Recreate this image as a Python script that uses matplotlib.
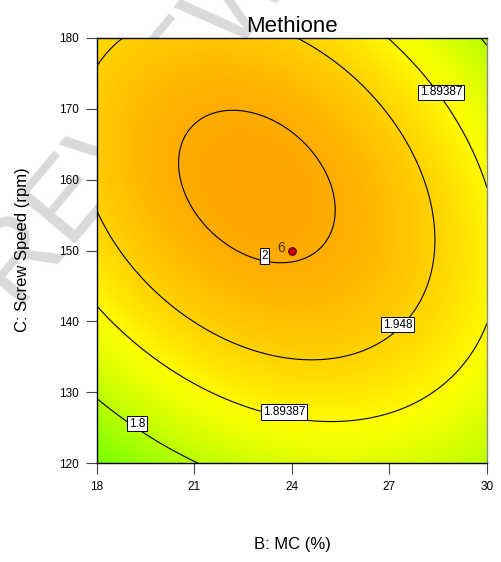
import matplotlib
matplotlib.use("Agg")
import matplotlib.pyplot as plt
import numpy as np
from matplotlib.colors import LinearSegmentedColormap, Normalize

plt.rcParams['font.family'] = ['Liberation Sans', 'DejaVu Sans']

# quadratic response model for Methione, coded factors
# x = (B - 24) / 6, y = (C - 150) / 30
coef_names = ['const', 'B', 'C', 'BC', 'B2', 'C2']
coef = [2.00319, -0.01300, 0.05395, -0.05897, -0.08549, -0.10718]

b_range = [18, 30]
c_range = [120, 180]
levels = [1.8, 1.89387, 1.948, 2.0]
level_labels = {1.8: '1.8', 1.89387: '1.89387', 1.948: '1.948', 2.0: '2'}
label_pos = [(19.4, 126), (23.8, 127.5), (28.7, 172), (27.1, 139.6), (23.2, 149.5)]

design_b = [24]
design_c = [150]
design_n = ['6']

x_ticks = [18, 21, 24, 27, 30]
y_ticks = [120, 130, 140, 150, 160, 170, 180]

b = np.linspace(b_range[0], b_range[1], 300)
c = np.linspace(c_range[0], c_range[1], 300)
B, C = np.meshgrid(b, c)
X = (B - 24) / 6
Y = (C - 150) / 30
Z = coef[0] + coef[1]*X + coef[2]*Y + coef[3]*X*Y + coef[4]*X**2 + coef[5]*Y**2

cmap = LinearSegmentedColormap.from_list(
    'de', [(0.0, '#6cff00'), (0.6, '#ffff00'), (1.0, '#ffa400')])
norm = Normalize(vmin=1.70, vmax=2.0125)

fig = plt.figure(figsize=(5.01, 5.62), dpi=100)

# faint watermark, sits behind the plot
fig.text(0.22, 0.74, 'PREVIEW', fontsize=80, color='#dadada', rotation=50,
         ha='center', va='center', zorder=0)

ax = fig.add_axes([0.1936, 0.176, 0.7784, 0.7564])
ax.set_zorder(2)
ax.imshow(Z, extent=[b_range[0], b_range[1], c_range[0], c_range[1]],
          origin='lower', aspect='auto', cmap=cmap, norm=norm,
          interpolation='bilinear')
cs = ax.contour(B, C, Z, levels=levels, colors='k', linewidths=0.8)
txts = ax.clabel(cs, inline=False, manual=label_pos, fmt=level_labels, fontsize=8.5,
                 colors='k')
for t in txts:
    t.set_bbox(dict(facecolor='white', edgecolor='black', linewidth=0.7, pad=1.2))
    t.set_rotation(0)
    x0, y0 = t.get_position()
    t.set_position((x0, y0 + 0.7))

ax.scatter(design_b, design_c, s=30, color='#cc0000', edgecolor='#550000',
           linewidth=0.8, zorder=5)
for bb, cc, n in zip(design_b, design_c, design_n):
    ax.annotate(n, (bb, cc), xytext=(-8, 1.5), textcoords='offset points',
                ha='center', va='center', fontsize=10, color='#4a3300')

ax.set_xlim(b_range)
ax.set_ylim(c_range)
ax.set_xticks(x_ticks)
ax.set_yticks(y_ticks)
ax.tick_params(direction='out', length=8, width=0.8, labelsize=8.5,
               color='#444444', pad=5)
for s in ax.spines.values():
    s.set_linewidth(1.0)
ax.spines['right'].set_color('#888888')

ax.set_title('Methione', fontsize=16, pad=4)
fig.text(0.5836, 1 - 545 / 562, 'B: MC (%)', fontsize=12, ha='center', va='center')
fig.text(23 / 501, 1 - 250 / 562, 'C: Screw Speed (rpm)', fontsize=12,
         rotation=90, ha='center', va='center')

fig.savefig('out.png')
